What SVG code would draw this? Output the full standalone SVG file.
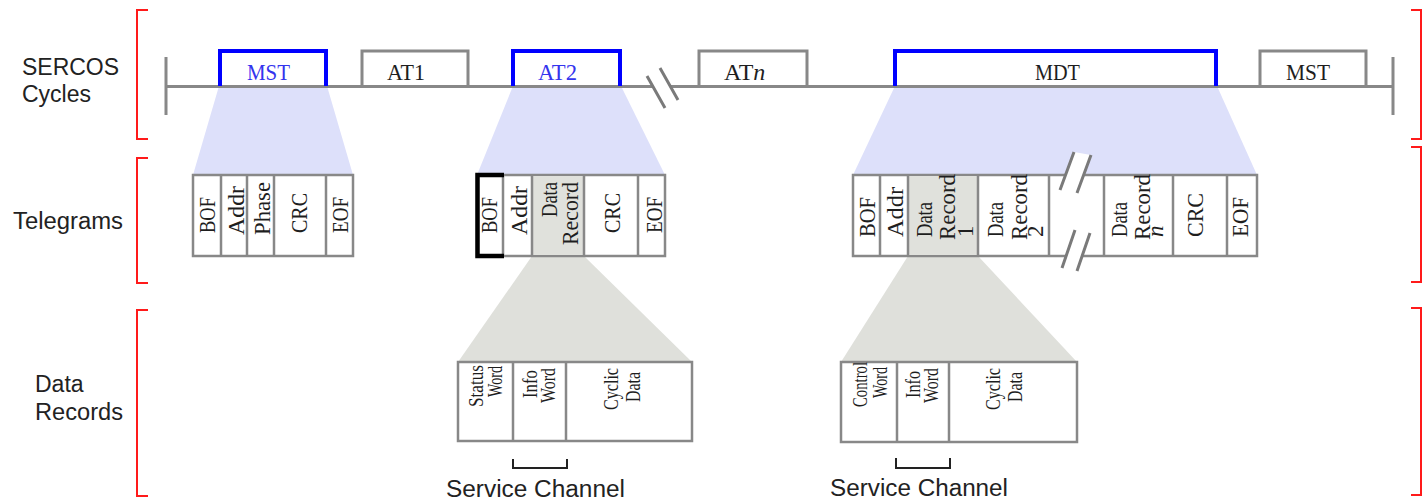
<svg xmlns="http://www.w3.org/2000/svg" width="1426" height="500" viewBox="0 0 1426 500">
  <style>
    .lbl{font-family:"Liberation Sans",Arial,sans-serif;font-size:23px;fill:#222}
    .ser{font-family:"Liberation Serif","Times New Roman",serif;fill:#1e1e1e}
    .hd{font-size:24px}
    .cell{font-size:23px}
    .rec{font-size:21px}
    .blue{fill:#3434ee}
    .br{fill:none;stroke:#ff1a1a;stroke-width:2}
    .axis{fill:none;stroke:#888;stroke-width:3}
    .gbox{fill:none;stroke:#888;stroke-width:3}
    .bbox{fill:none;stroke:#0000ff;stroke-width:4}
    .frame{fill:#fff;stroke:#888;stroke-width:2.5}
    .div{fill:none;stroke:#888;stroke-width:2.5}
    .shade{fill:#e0e1dc}
    .zb{fill:#dde0fa}
    .zg{fill:#dfe0db}
    .gap{fill:#fff}
    .brk{fill:none;stroke:#7a7a7a;stroke-width:3}
    .sc{fill:none;stroke:#222;stroke-width:2}
  </style>

  <!-- zoom-in connectors between levels -->
  <g id="connectors">
    <polygon class="zb" points="219,86 327,86 353,175 193,175"/>
    <polygon class="zb" points="513,86 621,86 665,175 477,175"/>
    <polygon class="zb" points="895,86 1217,86 1257,175 853,175"/>
    <polygon class="zg" points="532,256 584,256 692,362 458,362"/>
    <polygon class="zg" points="908,256 978,256 1077,362 841,362"/>
  </g>

  <!-- level labels -->
  <g id="label-cycles">
    <text class="lbl" x="22" y="75" textLength="97" lengthAdjust="spacingAndGlyphs">SERCOS</text>
    <text class="lbl" x="22" y="102">Cycles</text>
  </g>
  <g id="label-telegrams">
    <text class="lbl" x="13" y="229" textLength="110" lengthAdjust="spacingAndGlyphs">Telegrams</text>
  </g>
  <g id="label-records">
    <text class="lbl" x="35" y="392">Data</text>
    <text class="lbl" x="35" y="420" textLength="88" lengthAdjust="spacingAndGlyphs">Records</text>
  </g>

  <!-- level brackets -->
  <g id="brackets">
    <path class="br" d="M148,10 H137 V139 H148"/>
    <path class="br" d="M148,158 H137 V283 H148"/>
    <path class="br" d="M148,310 H137 V496 H148"/>
    <path class="br" d="M1411,10 H1421 V139 H1411"/>
    <path class="br" d="M1411,147 H1421 V282 H1411"/>
    <path class="br" d="M1411,308 H1421 V495 H1411"/>
  </g>

  <!-- cycle time axis -->
  <g id="timeline">
    <path class="axis" d="M166,86.5 H1393 M166,57 V115 M1393,57 V115"/>
    <polygon class="gap" points="648,77 665,109 678,100 660,68"/>
    <path class="brk" d="M647,76 L665,108 M660,68 L678,100"/>
  </g>

  <g id="cycle-mst">
    <path class="bbox" d="M220,86 V51 H326 V86"/>
    <text class="ser hd blue" x="247" y="80" textLength="43" lengthAdjust="spacingAndGlyphs">MST</text>
  </g>
  <g id="cycle-at1">
    <path class="gbox" d="M362,86 V51 H468 V86"/>
    <text class="ser hd" x="387" y="80" textLength="38" lengthAdjust="spacingAndGlyphs">AT1</text>
  </g>
  <g id="cycle-at2">
    <path class="bbox" d="M513,86 V51 H620 V86"/>
    <text class="ser hd blue" x="538" y="80" textLength="39" lengthAdjust="spacingAndGlyphs">AT2</text>
  </g>
  <g id="cycle-atn">
    <path class="gbox" d="M699,86 V51 H807 V86"/>
    <text class="ser hd" x="724" y="80">AT<tspan font-style="italic">n</tspan></text>
  </g>
  <g id="cycle-mdt">
    <path class="bbox" d="M895,86 V51 H1216 V86"/>
    <text class="ser hd" x="1035" y="80" textLength="45" lengthAdjust="spacingAndGlyphs">MDT</text>
  </g>
  <g id="cycle-mst-next">
    <path class="gbox" d="M1260,86 V51 H1366 V86"/>
    <text class="ser hd" x="1286" y="80" textLength="44" lengthAdjust="spacingAndGlyphs">MST</text>
  </g>

  <!-- MST telegram -->
  <g id="telegram-mst">
    <rect class="frame" x="193" y="175" width="160" height="81"/>
    <path class="div" d="M221,175 V256 M247,175 V256 M274,175 V256 M326,175 V256"/>
    <text class="ser cell" transform="translate(215,233) rotate(-90)" textLength="36" lengthAdjust="spacingAndGlyphs">BOF</text>
    <text class="ser cell" transform="translate(244,235) rotate(-90)" textLength="49" lengthAdjust="spacingAndGlyphs">Addr</text>
    <text class="ser cell" transform="translate(270,235) rotate(-90)" textLength="53" lengthAdjust="spacingAndGlyphs">Phase</text>
    <text class="ser cell" transform="translate(307,233) rotate(-90)" textLength="40" lengthAdjust="spacingAndGlyphs">CRC</text>
    <text class="ser cell" transform="translate(348,233) rotate(-90)" textLength="36" lengthAdjust="spacingAndGlyphs">EOF</text>
  </g>

  <!-- AT2 telegram -->
  <g id="telegram-at2">
    <rect class="frame" x="477" y="175" width="188" height="81"/>
    <rect class="shade" x="532" y="176" width="52" height="79"/>
    <path class="div" d="M503,175 V256 M532,175 V256 M584,175 V256 M638,175 V256"/>
    <path d="M504,175 H477.5 V256 H504" fill="none" stroke="#000" stroke-width="4.5"/>
    <text class="ser cell" transform="translate(497,233) rotate(-90)" textLength="36" lengthAdjust="spacingAndGlyphs">BOF</text>
    <text class="ser cell" transform="translate(527,235) rotate(-90)" textLength="49" lengthAdjust="spacingAndGlyphs">Addr</text>
    <text class="ser cell" transform="translate(557,217) rotate(-90)" textLength="35" lengthAdjust="spacingAndGlyphs">Data</text>
    <text class="ser cell" transform="translate(578,245) rotate(-90)" textLength="63" lengthAdjust="spacingAndGlyphs">Record</text>
    <text class="ser cell" transform="translate(620,233) rotate(-90)" textLength="40" lengthAdjust="spacingAndGlyphs">CRC</text>
    <text class="ser cell" transform="translate(662,233) rotate(-90)" textLength="36" lengthAdjust="spacingAndGlyphs">EOF</text>
  </g>

  <!-- MDT telegram -->
  <g id="telegram-mdt">
    <rect class="frame" x="853" y="175" width="404" height="81"/>
    <rect class="shade" x="908" y="176" width="70" height="79"/>
    <path class="div" d="M880,175 V256 M908,175 V256 M978,175 V256 M1049,175 V256 M1104,175 V256 M1173,175 V256 M1227,175 V256"/>
    <polygon class="gap" points="1060,190 1074,152 1091,155 1077,193"/>
    <path class="brk" d="M1060,190 L1074,152 M1077,193 L1091,155"/>
    <polygon class="gap" points="1062,268 1075,230 1090,233 1077,271"/>
    <path class="brk" d="M1062,268 L1075,230 M1077,271 L1090,233"/>
    <text class="ser cell" transform="translate(875,237) rotate(-90)" textLength="40" lengthAdjust="spacingAndGlyphs">BOF</text>
    <text class="ser cell" transform="translate(903,237) rotate(-90)" textLength="50" lengthAdjust="spacingAndGlyphs">Addr</text>
    <text class="ser cell" transform="translate(932,237) rotate(-90)" textLength="35" lengthAdjust="spacingAndGlyphs">Data</text>
    <text class="ser cell" transform="translate(955,240) rotate(-90)" textLength="66" lengthAdjust="spacingAndGlyphs">Record</text>
    <text class="ser cell" transform="translate(973,237) rotate(-90)">1</text>
    <text class="ser cell" transform="translate(1003,237) rotate(-90)" textLength="35" lengthAdjust="spacingAndGlyphs">Data</text>
    <text class="ser cell" transform="translate(1027,240) rotate(-90)" textLength="66" lengthAdjust="spacingAndGlyphs">Record</text>
    <text class="ser cell" transform="translate(1043,237) rotate(-90)">2</text>
    <text class="ser cell" transform="translate(1127,237) rotate(-90)" textLength="35" lengthAdjust="spacingAndGlyphs">Data</text>
    <text class="ser cell" transform="translate(1150,240) rotate(-90)" textLength="66" lengthAdjust="spacingAndGlyphs">Record</text>
    <text class="ser cell" transform="translate(1163,237) rotate(-90)" font-style="italic">n</text>
    <text class="ser cell" transform="translate(1203,237) rotate(-90)" textLength="44" lengthAdjust="spacingAndGlyphs">CRC</text>
    <text class="ser cell" transform="translate(1248,237) rotate(-90)" textLength="40" lengthAdjust="spacingAndGlyphs">EOF</text>
  </g>

  <!-- AT data record -->
  <g id="record-at2">
    <rect class="frame" x="458" y="362" width="234" height="79"/>
    <path class="div" d="M513,362 V441 M566,362 V441"/>
    <text class="ser rec" transform="translate(483,407) rotate(-90)" textLength="42" lengthAdjust="spacingAndGlyphs">Status</text>
    <text class="ser rec" transform="translate(502,397) rotate(-90)" textLength="31" lengthAdjust="spacingAndGlyphs">Word</text>
    <text class="ser rec" transform="translate(537,398) rotate(-90)" textLength="28" lengthAdjust="spacingAndGlyphs">Info</text>
    <text class="ser rec" transform="translate(555,403) rotate(-90)" textLength="35" lengthAdjust="spacingAndGlyphs">Word</text>
    <text class="ser rec" transform="translate(618,410) rotate(-90)" textLength="42" lengthAdjust="spacingAndGlyphs">Cyclic</text>
    <text class="ser rec" transform="translate(640,402) rotate(-90)" textLength="30" lengthAdjust="spacingAndGlyphs">Data</text>
  </g>

  <!-- MDT data record -->
  <g id="record-mdt">
    <rect class="frame" x="841" y="362" width="236" height="80"/>
    <path class="div" d="M897,362 V442 M949,362 V442"/>
    <text class="ser rec" transform="translate(867,407) rotate(-90)" textLength="45" lengthAdjust="spacingAndGlyphs">Control</text>
    <text class="ser rec" transform="translate(887,398) rotate(-90)" textLength="31" lengthAdjust="spacingAndGlyphs">Word</text>
    <text class="ser rec" transform="translate(920,398) rotate(-90)" textLength="27" lengthAdjust="spacingAndGlyphs">Info</text>
    <text class="ser rec" transform="translate(938,403) rotate(-90)" textLength="35" lengthAdjust="spacingAndGlyphs">Word</text>
    <text class="ser rec" transform="translate(1000,410) rotate(-90)" textLength="42" lengthAdjust="spacingAndGlyphs">Cyclic</text>
    <text class="ser rec" transform="translate(1022,402) rotate(-90)" textLength="30" lengthAdjust="spacingAndGlyphs">Data</text>
  </g>

  <!-- service channel markers -->
  <g id="service-channel-at2">
    <path class="sc" d="M513,459 V468 H567 V459"/>
    <text class="lbl" x="446" y="497" textLength="179" lengthAdjust="spacingAndGlyphs">Service Channel</text>
  </g>
  <g id="service-channel-mdt">
    <path class="sc" d="M896,458 V468 H950 V458"/>
    <text class="lbl" x="830" y="496" textLength="178" lengthAdjust="spacingAndGlyphs">Service Channel</text>
  </g>
</svg>
